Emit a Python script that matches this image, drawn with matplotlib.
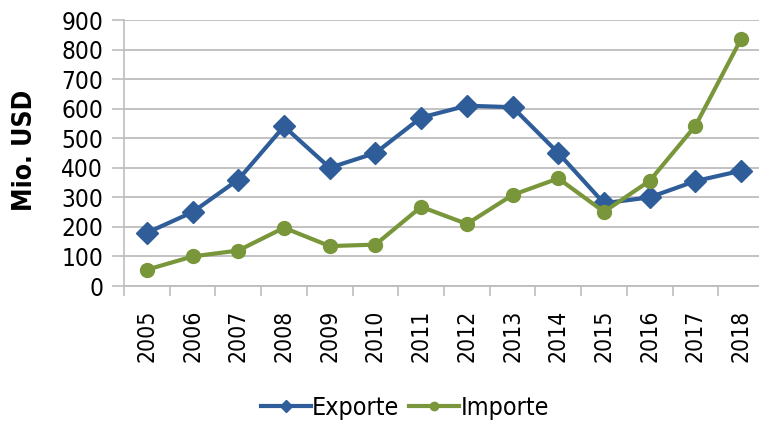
import matplotlib
matplotlib.use("Agg")
import matplotlib.pyplot as plt
import numpy as np

years = ["2005", "2006", "2007", "2008", "2009", "2010", "2011", "2012",
         "2013", "2014", "2015", "2016", "2017", "2018"]
exporte = [180, 250, 360, 540, 400, 450, 570, 610, 605, 450, 280, 300, 355, 390]
importe = [55, 100, 120, 197, 135, 140, 268, 210, 308, 364, 251, 356, 542, 836]
yticks = [0, 100, 200, 300, 400, 500, 600, 700, 800, 900]

blue = "#2E5D9A"
green = "#79973A"
grid = "#BDBDBD"

plt.rcParams['font.family'] = ['DejaVu Sans']
plt.rcParams['font.stretch'] = 'condensed'
fig = plt.figure(figsize=(7.59, 4.22), dpi=100)
ax = fig.add_axes([124/759, 136/422, 640/759, 266/422])

x = np.arange(len(years))
ax.plot(x, exporte, color=blue, lw=3, marker='D', ms=11, label="Exporte", zorder=3)
ax.plot(x, importe, color=green, lw=3, marker='o', ms=10, label="Importe", zorder=3)

ax.set_xlim(-0.5, len(years) - 0.5)
ax.set_ylim(0, 900)
ax.set_yticks(yticks)
ax.set_yticklabels([str(v) for v in yticks], fontsize=17.5)
ax.set_xticks(x)
ax.set_xticklabels(years, rotation=90, fontsize=16.5)
ax.set_xticks(np.arange(-0.5, len(years), 1), minor=True)
ax.tick_params(axis='x', which='major', length=0, pad=17)
ax.tick_params(axis='x', which='minor', length=7, color=grid, width=1.2)
ax.tick_params(axis='y', length=9, color=grid, width=1.2, pad=6)

ax.grid(axis='y', color=grid, lw=1.3)
ax.set_axisbelow(True)
for s in ['top', 'right']:
    ax.spines[s].set_visible(False)
ax.spines['left'].set_color(grid)
ax.spines['bottom'].set_color(grid)
ax.spines['left'].set_linewidth(1.2)
ax.spines['bottom'].set_linewidth(1.3)

fig.text(25/759, 1 - 150/422, "Mio. USD", rotation=90, fontsize=19,
         fontweight='bold', ha='center', va='center')

fig.legend(loc='center', bbox_to_anchor=(405/759, 1 - 408/422), ncol=2,
           frameon=False, fontsize=18, handlelength=2.0, handletextpad=0.05,
           columnspacing=0.4, markerscale=0.6)

fig.savefig("out.png", dpi=100)
